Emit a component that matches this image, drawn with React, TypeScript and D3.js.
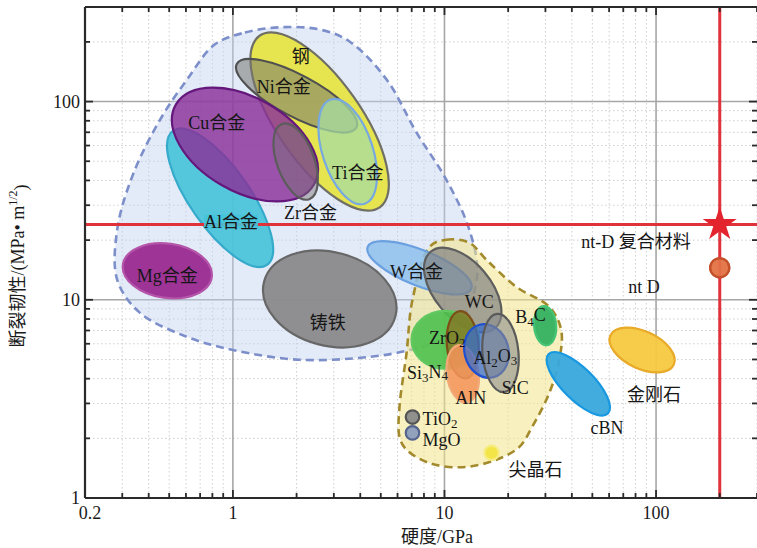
import React, { useEffect, useRef } from 'react';
import * as d3 from 'd3';

// Ashby map: hardness (GPa) vs fracture toughness (MPa·m^1/2), both log scale
// each field: centre hardness h, centre toughness k, half-widths in decades (dh, dk), tilt in degrees
const metalFields = [
  { name: 'Al合金', h: 0.87, k: 32.7, dh: 0.387, dk: 0.151, tilt: 55 },
  { name: 'Mg合金', h: 0.49, k: 14.0, dh: 0.212, dk: 0.137, tilt: 8 },
  { name: '钢', h: 2.57, k: 79.3, dh: 0.495, dk: 0.212, tilt: 55 },
  { name: 'Ni合金', h: 2.0, k: 107, dh: 0.32, dk: 0.105, tilt: 28 },
  { name: 'Cu合金', h: 1.14, k: 60.7, dh: 0.377, dk: 0.236, tilt: 30 },
  { name: 'Ti合金', h: 3.49, k: 55.9, dh: 0.259, dk: 0.127, tilt: 72 },
  { name: 'Zr合金', h: 1.98, k: 49.8, dh: 0.189, dk: 0.094, tilt: 70 },
  { name: '铸铁', h: 2.87, k: 10.1, dh: 0.321, dk: 0.236, tilt: 15 },
  { name: 'W合金', h: 7.62, k: 14.5, dh: 0.264, dk: 0.09, tilt: 22 },
];

const ceramicFields = [
  { name: 'WC', h: 12.2, k: 11.2, dh: 0.236, dk: 0.142, tilt: 50 },
  { name: 'Si3N4', h: 10.1, k: 6.28, dh: 0.16, dk: 0.146, tilt: 0 },
  { name: 'ZrO2', h: 12.2, k: 5.93, dh: 0.075, dk: 0.17, tilt: -5 },
  { name: 'AlN', h: 12.2, k: 4.23, dh: 0.075, dk: 0.146, tilt: -8 },
  { name: 'Al2O3', h: 15.8, k: 5.52, dh: 0.104, dk: 0.137, tilt: -15 },
  { name: 'SiC', h: 18.4, k: 5.39, dh: 0.085, dk: 0.198, tilt: -5 },
  { name: 'B4C', h: 29.9, k: 7.4, dh: 0.052, dk: 0.099, tilt: -5 },
  { name: 'cBN', h: 42.9, k: 3.77, dh: 0.198, dk: 0.08, tilt: 45 },
  { name: '金刚石', h: 85.9, k: 5.58, dh: 0.165, dk: 0.094, tilt: 25 },
];

const smallPoints = [
  { name: 'TiO2', h: 7.06, k: 2.56, d: 0.034 },
  { name: 'MgO', h: 7.06, k: 2.13, d: 0.034 },
  { name: '尖晶石', h: 16.7, k: 1.69, d: 0.036 },
  { name: 'nt D', h: 200, k: 14.5, d: 0.048 },
];

// nt-D composite
const compositeHardness = 200;
const compositeToughness = 24;

// envelope outlines, [hardness, toughness]
const metalEnvelope = [
  [0.82, 194], [1.14, 223], [1.67, 237], [2.57, 231], [3.56, 201], [5.33, 129],
  [7.38, 69.7], [10.2, 40.4], [13.1, 22.6], [14.3, 13.4], [12.4, 8.39], [9.47, 6.28],
  [6.84, 5.58], [4.43, 5.15], [2.07, 4.98], [1.0, 5.58], [0.607, 6.5], [0.364, 8.59],
  [0.284, 12.6], [0.284, 22.6], [0.337, 42.8], [0.453, 81.1], [0.607, 129],
];

const ceramicEnvelope = [
  [8.5, 18.5], [10.2, 20.1], [13.1, 19.4], [15.8, 15.9], [21.9, 11.6], [31.3, 9.22],
  [35.6, 7.05], [34.9, 4.98], [31.3, 3.39], [26.0, 2.29], [22.6, 1.81], [17.6, 1.56],
  [12.2, 1.43], [8.5, 1.5], [6.62, 1.75], [6.13, 2.03], [6.13, 2.88], [6.62, 5.39], [7.06, 10.0],
];

// label text ("_n" = subscript) and where it sits, [hardness, toughness]
const labels = [
  { text: '钢', h: 2.09, k: 167 },
  { text: 'Ni合金', h: 1.74, k: 119 },
  { text: 'Cu合金', h: 0.84, k: 78.3 },
  { text: 'Ti合金', h: 3.89, k: 43.8 },
  { text: 'Zr合金', h: 2.33, k: 27.5 },
  { text: 'Al合金', h: 0.98, k: 24.8 },
  { text: 'Mg合金', h: 0.49, k: 13.2 },
  { text: '铸铁', h: 2.81, k: 7.66 },
  { text: 'W合金', h: 7.38, k: 13.8 },
  { text: 'WC', h: 14.6, k: 9.77 },
  { text: 'ZrO_2', h: 10.3, k: 6.43 },
  { text: 'Al_2O_3', h: 17.4, k: 5.09 },
  { text: 'Si_3N_4', h: 8.32, k: 4.27 },
  { text: 'SiC', h: 21.6, k: 3.6 },
  { text: 'AlN', h: 13.3, k: 3.2 },
  { text: 'B_4C', h: 25.5, k: 8.2 },
  { text: 'TiO_2', h: 7.88, k: 2.51 },
  { text: 'MgO', h: 7.88, k: 1.96 },
  { text: '尖晶石', h: 26.9, k: 1.38 },
  { text: 'cBN', h: 58.7, k: 2.26 },
  { text: '金刚石', h: 97.9, k: 3.31 },
  { text: 'nt D', h: 87.8, k: 11.6 },
  { text: 'nt-D 复合材料', h: 80.5, k: 19.6 },
];

const xTickLabels = [0.2, 1, 10, 100];
const yTickLabels = [1, 10, 100];

// fill, stroke, fill-opacity
const colors: Record<string, [string, string, number]> = {
  'Al合金': ['#45c3d9', '#35aacb', 0.9],
  'Mg合金': ['#9a2a90', '#b455aa', 0.95],
  '钢': ['#e6e33c', '#6f6f66', 0.9],
  'Ni合金': ['#77776f', '#505050', 0.55],
  'Cu合金': ['#8a2f98', '#65187c', 0.82],
  'Ti合金': ['#a6dca2', '#78a8e0', 0.75],
  'Zr合金': ['#777070', '#5c5c5c', 0.45],
  '铸铁': ['#8a8a8c', '#676767', 0.95],
  'W合金': ['#8ec0ec', '#6aa0e0', 0.85],
  'WC': ['#808080', '#5e5e5e', 0.7],
  'Si3N4': ['#4cc04c', '#62c862', 0.9],
  'ZrO2': ['#8a7020', '#7c4e18', 0.75],
  'AlN': ['#f2945a', '#f2a878', 0.88],
  'Al2O3': ['#3a6ccc', '#2050d0', 0.75],
  'SiC': ['#8c8c8c', '#5a5a5a', 0.6],
  'B4C': ['#34b060', '#44c474', 0.95],
  'cBN': ['#38a8dc', '#1898e0', 0.95],
  '金刚石': ['#f5c940', '#e8aa28', 0.95],
  'TiO2': ['#8a8a8a', '#555555', 0.95],
  'MgO': ['#8c9cbc', '#56658e', 0.95],
  '尖晶石': ['#f2e23a', '#f6ec80', 0.9],
  'nt D': ['#e4784c', '#c4502a', 0.95],
};

const serif = '"Liberation Serif", "Times New Roman", "Noto Sans CJK SC", serif';

const Chart = () => {
  const ref = useRef<SVGSVGElement>(null);

  useEffect(() => {
    const svg = d3.select(ref.current);
    svg.selectAll('*').remove();

    const width = 757;
    const height = 548;
    const left = 85, right = 757, top = 7, bottom = 498;

    const x = d3.scaleLog().domain([0.2, 300]).range([left, right]);
    const y = d3.scaleLog().domain([1, 300]).range([bottom, top]);

    svg.append('rect').attr('width', width).attr('height', height).attr('fill', '#fff');

    const isMajor = (t: number) => Math.abs(Math.log10(t) - Math.round(Math.log10(t))) < 1e-9;
    const xt = x.ticks();
    const yt = y.ticks();

    // minor dotted grid
    const grid = svg.append('g');
    grid.selectAll('line.xm').data(xt.filter(t => !isMajor(t))).enter().append('line')
      .attr('x1', d => x(d)).attr('x2', d => x(d)).attr('y1', top).attr('y2', bottom)
      .attr('stroke', '#cfcfcf').attr('stroke-width', 1).attr('stroke-dasharray', '1.5,2.5');
    grid.selectAll('line.ym').data(yt.filter(t => !isMajor(t))).enter().append('line')
      .attr('y1', d => y(d)).attr('y2', d => y(d)).attr('x1', left).attr('x2', right)
      .attr('stroke', '#cfcfcf').attr('stroke-width', 1).attr('stroke-dasharray', '1.5,2.5');
    // major grid
    grid.selectAll('line.xM').data(xt.filter(t => isMajor(t) && x(t) > left + 1)).enter().append('line')
      .attr('x1', d => x(d)).attr('x2', d => x(d)).attr('y1', top).attr('y2', bottom)
      .attr('stroke', '#a6a6a6').attr('stroke-width', 1.6);
    grid.selectAll('line.yM').data(yt.filter(t => isMajor(t) && y(t) < bottom - 1)).enter().append('line')
      .attr('y1', d => y(d)).attr('y2', d => y(d)).attr('x1', left).attr('x2', right)
      .attr('stroke', '#a6a6a6').attr('stroke-width', 1.6);

    // envelopes
    const outline = d3.line<number[]>()
      .x(d => x(d[0]))
      .y(d => y(d[1]))
      .curve(d3.curveCatmullRomClosed.alpha(0.5));

    svg.append('path')
      .attr('d', outline(metalEnvelope))
      .attr('fill', '#c4d2f0').attr('fill-opacity', 0.45)
      .attr('stroke', '#7d8fca').attr('stroke-width', 2.6).attr('stroke-dasharray', '8,5');

    svg.append('path')
      .attr('d', outline(ceramicEnvelope))
      .attr('fill', '#f2e68a').attr('fill-opacity', 0.55)
      .attr('stroke', '#a38a2c').attr('stroke-width', 2.6).attr('stroke-dasharray', '8,5');

    // material fields
    const fields = [...metalFields, ...ceramicFields];
    svg.append('g').selectAll('ellipse').data(fields).enter().append('ellipse')
      .attr('transform', d => `translate(${x(d.h)},${y(d.k)}) rotate(${d.tilt})`)
      .attr('rx', d => x(d.h * 10 ** d.dh) - x(d.h))
      .attr('ry', d => y(d.k) - y(d.k * 10 ** d.dk))
      .attr('fill', d => colors[d.name][0])
      .attr('fill-opacity', d => colors[d.name][2])
      .attr('stroke', d => colors[d.name][1])
      .attr('stroke-width', 2.2);

    svg.append('g').selectAll('circle').data(smallPoints).enter().append('circle')
      .attr('cx', d => x(d.h))
      .attr('cy', d => y(d.k))
      .attr('r', d => y(d.k) - y(d.k * 10 ** d.d))
      .attr('fill', d => colors[d.name][0])
      .attr('fill-opacity', d => colors[d.name][2])
      .attr('stroke', d => colors[d.name][1])
      .attr('stroke-width', 2.2);

    // red guide lines through nt-D composite
    svg.append('line')
      .attr('x1', left).attr('x2', right)
      .attr('y1', y(compositeToughness)).attr('y2', y(compositeToughness))
      .attr('stroke', '#e0323a').attr('stroke-width', 3);
    svg.append('line')
      .attr('x1', x(compositeHardness)).attr('x2', x(compositeHardness))
      .attr('y1', top).attr('y2', bottom)
      .attr('stroke', '#e0323a').attr('stroke-width', 3);
    // re-draw nt D dot over vertical line
    const ntd = smallPoints[3];
    svg.append('circle')
      .attr('cx', x(ntd.h)).attr('cy', y(ntd.k))
      .attr('r', y(ntd.k) - y(ntd.k * 10 ** ntd.d))
      .attr('fill', colors['nt D'][0]).attr('fill-opacity', 0.85)
      .attr('stroke', colors['nt D'][1]).attr('stroke-width', 2.2);
    svg.append('path')
      .attr('d', d3.symbol(d3.symbolStar).size(360)())
      .attr('transform', `translate(${x(compositeHardness)},${y(compositeToughness)})`)
      .attr('fill', '#e3242e');

    // frame and ticks
    const axis = svg.append('g').attr('stroke', '#2a2a2a');
    axis.append('line').attr('x1', left).attr('x2', left).attr('y1', top).attr('y2', bottom).attr('stroke-width', 2.2);
    axis.append('line').attr('x1', left).attr('x2', right).attr('y1', top).attr('y2', top).attr('stroke-width', 2.2);
    axis.append('line').attr('x1', left).attr('x2', right).attr('y1', bottom).attr('y2', bottom).attr('stroke-width', 2.2);
    const len = (t: number) => (isMajor(t) ? 8 : 5);
    xt.forEach(t => {
      axis.append('line').attr('x1', x(t)).attr('x2', x(t)).attr('y1', bottom).attr('y2', bottom - len(t)).attr('stroke-width', 1.8);
      axis.append('line').attr('x1', x(t)).attr('x2', x(t)).attr('y1', top).attr('y2', top + len(t)).attr('stroke-width', 1.8);
    });
    yt.forEach(t => {
      axis.append('line').attr('y1', y(t)).attr('y2', y(t)).attr('x1', left).attr('x2', left + len(t)).attr('stroke-width', 1.8);
      axis.append('line').attr('y1', y(t)).attr('y2', y(t)).attr('x1', right).attr('x2', right - len(t)).attr('stroke-width', 1.8);
    });

    // tick labels
    svg.append('g').selectAll('text').data(xTickLabels).enter().append('text')
      .attr('x', (d, i) => x(d) + (i === 0 ? 5 : 0))
      .attr('y', bottom + 15)
      .attr('text-anchor', 'middle').attr('dominant-baseline', 'central')
      .style('font-family', serif).style('font-size', '18px').attr('fill', '#1a1a1a')
      .text(d => String(d));
    svg.append('g').selectAll('text').data(yTickLabels).enter().append('text')
      .attr('x', left - 5)
      .attr('y', d => y(d))
      .attr('text-anchor', 'end').attr('dominant-baseline', 'central')
      .style('font-family', serif).style('font-size', '18px').attr('fill', '#1a1a1a')
      .text(d => String(d));

    // axis titles
    svg.append('text')
      .attr('x', 437).attr('y', 537)
      .attr('text-anchor', 'middle').attr('dominant-baseline', 'central')
      .style('font-family', serif).style('font-size', '18px').attr('fill', '#1a1a1a')
      .text('硬度/GPa');
    const yTitle = svg.append('text')
      .attr('transform', 'translate(18,266) rotate(-90)')
      .attr('text-anchor', 'middle').attr('dominant-baseline', 'central')
      .style('font-family', serif).style('font-size', '18px').attr('fill', '#1a1a1a');
    yTitle.append('tspan').text('断裂韧性/(MPa• m');
    yTitle.append('tspan').attr('dy', '-0.45em').style('font-size', '12px').text('1/2');
    yTitle.append('tspan').attr('dy', '0.45em').text(')');

    // field labels
    const lg = svg.append('g');
    labels.forEach(l => {
      const startAligned = l.text === 'TiO_2' || l.text === 'MgO';
      const t = lg.append('text')
        .attr('x', x(l.h)).attr('y', y(l.k))
        .attr('text-anchor', startAligned ? 'start' : 'middle')
        .attr('dominant-baseline', 'central')
        .style('font-family', serif).style('font-size', '18px').attr('fill', '#161616');
      const parts = l.text.split(/(_\d)/).filter(p => p.length);
      let sub = false;
      parts.forEach(p => {
        if (p.startsWith('_')) {
          t.append('tspan').attr('dy', '0.3em').style('font-size', '13px').text(p.slice(1));
          sub = true;
        } else {
          t.append('tspan').attr('dy', sub ? '-0.3em' : null).text(p);
          sub = false;
        }
      });
      if (l.text === 'Al合金') {
        const node = t.node() as SVGTextElement;
        const b = node.getBBox();
        lg.insert('rect', () => node)
          .attr('x', b.x).attr('y', b.y + 3).attr('width', b.width).attr('height', b.height - 6)
          .attr('fill', colors['Al合金'][0]).attr('fill-opacity', 0.9);
      }
    });
  }, []);

  return <svg ref={ref} width={757} height={548} style={{ position: 'absolute', left: 0, top: 0 }} />;
};

export default function App() {
  return <Chart />;
}
